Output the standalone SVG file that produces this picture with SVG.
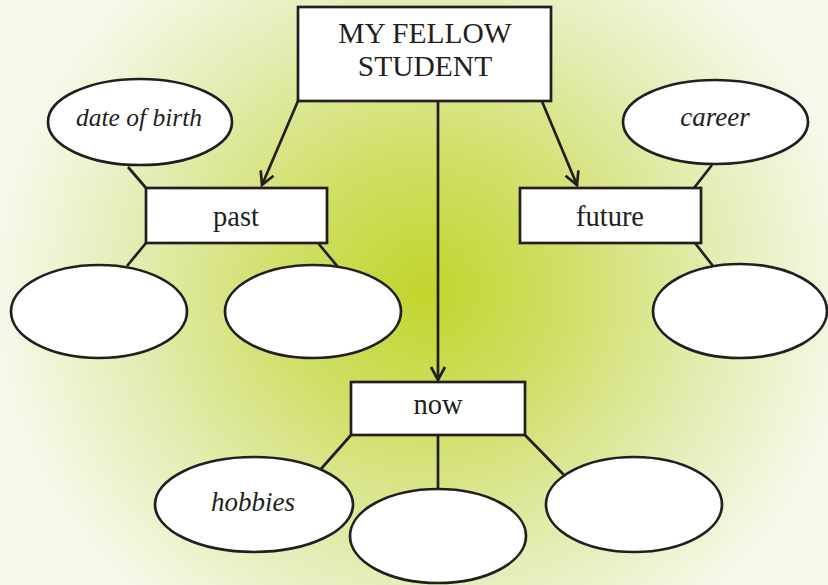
<svg xmlns="http://www.w3.org/2000/svg" width="828" height="585" viewBox="0 0 828 585">
  <style>
    .box { fill: #ffffff; stroke: #231f20; stroke-width: 2.7; }
    .oval { fill: #ffffff; stroke: #231f20; stroke-width: 2.7; }
    .line { fill: none; stroke: #231f20; stroke-width: 2.7; }
    .arrow { fill: none; stroke: #231f20; stroke-width: 2.7; marker-end: url(#open); }
    .lbl { font-family: "Liberation Serif", "Times New Roman", serif; font-size: 28.5px; fill: #231f20; text-anchor: middle; }
    .title { font-size: 29.5px; }
    .it { font-family: "Liberation Serif", "Times New Roman", serif; font-style: italic; font-size: 27px; fill: #231f20; text-anchor: middle; }
  </style>
  <defs>
    <radialGradient id="bg" gradientUnits="userSpaceOnUse" cx="425" cy="290" r="440" gradientTransform="translate(425 290) scale(1 0.95) translate(-425 -290)">
      <stop offset="0" stop-color="#c1d52c"/>
      <stop offset="0.35" stop-color="#d2e06c"/>
      <stop offset="0.7" stop-color="#e5eeba"/>
      <stop offset="1" stop-color="#f8faee"/>
    </radialGradient>
    <marker id="open" markerUnits="userSpaceOnUse" markerWidth="20" markerHeight="20" refX="14" refY="8" orient="auto" viewBox="0 0 20 16">
      <path d="M1,1 L14,8 L1,15" fill="none" stroke="#231f20" stroke-width="2.7"/>
    </marker>
  </defs>
  <rect x="0" y="0" width="828" height="585" fill="url(#bg)"/>

  <g id="connectors">
    <line class="arrow" x1="298" y1="101" x2="262" y2="185"/>
    <line class="arrow" x1="438" y1="101" x2="438" y2="380"/>
    <line class="arrow" x1="541" y1="99" x2="577" y2="185"/>
    <line class="line" x1="128" y1="167" x2="146" y2="188"/>
    <line class="line" x1="146" y1="243" x2="127" y2="266"/>
    <line class="line" x1="318" y1="243" x2="338" y2="267"/>
    <line class="line" x1="712" y1="165" x2="694" y2="188"/>
    <line class="line" x1="695" y1="243" x2="713" y2="266"/>
    <line class="line" x1="351" y1="435" x2="321" y2="469"/>
    <line class="line" x1="438" y1="435" x2="438" y2="489"/>
    <line class="line" x1="525" y1="435" x2="564" y2="475"/>
  </g>

  <g id="main">
    <rect class="box" x="298" y="7" width="253" height="94"/>
    <text class="lbl title" x="425" y="43">MY FELLOW</text>
    <text class="lbl title" x="425" y="76">STUDENT</text>
  </g>

  <g id="past">
    <rect class="box" x="146" y="188" width="181" height="55"/>
    <text class="lbl" x="236" y="226">past</text>
  </g>
  <g id="future">
    <rect class="box" x="520" y="188" width="181" height="55"/>
    <text class="lbl" x="610" y="226">future</text>
  </g>
  <g id="now">
    <rect class="box" x="351" y="382" width="174" height="53"/>
    <text class="lbl" x="438" y="414">now</text>
  </g>

  <g id="date-of-birth">
    <ellipse class="oval" cx="140" cy="122" rx="92" ry="43"/>
    <text class="it" x="139" y="126" style="font-size:25.5px">date of birth</text>
  </g>
  <g id="past-oval-1">
    <ellipse class="oval" cx="99" cy="311.5" rx="88" ry="46.5"/>
  </g>
  <g id="past-oval-2">
    <ellipse class="oval" cx="313" cy="311.5" rx="88" ry="46.5"/>
  </g>
  <g id="career">
    <ellipse class="oval" cx="715.5" cy="122" rx="92.5" ry="42"/>
    <text class="it" x="715" y="126">career</text>
  </g>
  <g id="future-oval">
    <ellipse class="oval" cx="740" cy="311" rx="87" ry="47"/>
  </g>
  <g id="hobbies">
    <ellipse class="oval" cx="254" cy="504.5" rx="99" ry="47.5"/>
    <text class="it" x="253" y="511">hobbies</text>
  </g>
  <g id="now-oval-2">
    <ellipse class="oval" cx="438" cy="536" rx="88" ry="47"/>
  </g>
  <g id="now-oval-3">
    <ellipse class="oval" cx="634" cy="504.5" rx="88" ry="47.5"/>
  </g>
</svg>
